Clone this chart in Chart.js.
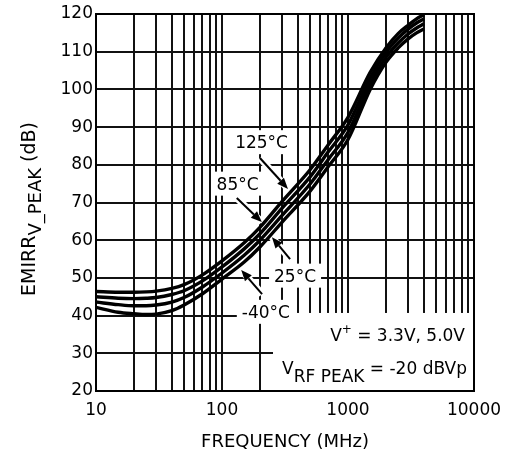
<!DOCTYPE html>
<html>
<head>
<meta charset="utf-8">
<script src="https://cdn.jsdelivr.net/npm/chart.js@4.4.1/dist/chart.umd.min.js"></script>
<style>
  html, body { margin: 0; padding: 0; background: #fff; }
  #wrap { width: 516px; height: 456px; }
</style>
</head>
<body>
<div id="wrap"><canvas id="emirrChart"></canvas></div>
<script>
// frequency points (MHz) and EMIRR values (dB)
const freqMHz   = [10, 15, 20, 25, 30, 40, 50, 70, 100, 150, 200, 300, 500, 700, 1000, 1500, 2000, 2500, 3000, 3500, 4000];
const emirr125C = [46.4, 46.2, 46.2, 46.3, 46.5, 47.2, 48.2, 50.8, 54.5, 59.3, 63.4, 70.3, 78.7, 85.4, 92.6, 104.5, 111.0, 114.8, 117.0, 118.7, 119.8];
const emirr85C  = [45.0, 44.6, 44.5, 44.6, 44.8, 45.6, 46.6, 49.2, 52.9, 57.7, 61.7, 68.5, 76.8, 83.5, 90.6, 103.0, 109.8, 113.6, 116.0, 117.6, 118.7];
const emirr25C  = [43.6, 42.9, 42.6, 42.6, 42.8, 43.6, 44.8, 47.6, 51.3, 56.0, 60.0, 66.6, 74.9, 81.5, 88.6, 101.5, 108.5, 112.3, 114.7, 116.3, 117.4];
const emirrM40C = [42.2, 40.9, 40.5, 40.3, 40.4, 41.3, 42.8, 45.8, 49.7, 54.2, 58.2, 64.8, 73.0, 79.6, 86.7, 100.0, 107.2, 111.0, 113.4, 115.0, 116.0];

const xTickLabels = [10, 100, 1000, 10000];
const yTicks = [20, 30, 40, 50, 60, 70, 80, 90, 100, 110, 120];

// log grid: 1..9 per decade
const xGridValues = [];
for (let d = 10; d < 10000; d *= 10) {
    for (let k = 1; k <= 9; k++) xGridValues.push(k * d);
}
xGridValues.push(10000);

const FONT = '"DejaVu Sans", sans-serif';

// temperature callouts (data coordinates)
const callouts = [
    { text: '125°C', f: 206, v: 86.0, fromF: 200, fromV: 81.8, toF: 334, toV: 73.6 },
    { text: '85°C',  f: 133, v: 75.0, fromF: 131, fromV: 71.2, toF: 207, toV: 64.8 },
    { text: '25°C',  f: 380, v: 50.6, fromF: 347, fromV: 55.0, toF: 249, toV: 60.8 },
    { text: '-40°C', f: 223, v: 41.0, fromF: 208, fromV: 45.7, toF: 142, toV: 52.1 }
];

function richText(ctx, parts, x, y, align) {
    let total = 0;
    parts.forEach(p => {
        ctx.font = p.size + 'px ' + FONT;
        p.w = ctx.measureText(p.t).width;
        total += p.w;
    });
    let cx = align === 'right' ? x - total : align === 'center' ? x - total / 2 : x;
    parts.forEach(p => {
        ctx.font = p.size + 'px ' + FONT;
        ctx.fillText(p.t, cx, y + (p.dy || 0));
        cx += p.w;
    });
}

function arrow(ctx, x1, y1, x2, y2) {
    const ang = Math.atan2(y2 - y1, x2 - x1), len = 11, half = 4.5;
    const bx = x2 - len * Math.cos(ang), by = y2 - len * Math.sin(ang);
    ctx.beginPath();
    ctx.moveTo(x1, y1);
    ctx.lineTo(bx, by);
    ctx.stroke();
    ctx.beginPath();
    ctx.moveTo(x2, y2);
    ctx.lineTo(bx + half * Math.sin(ang), by - half * Math.cos(ang));
    ctx.lineTo(bx - half * Math.sin(ang), by + half * Math.cos(ang));
    ctx.closePath();
    ctx.fill();
}

const overlay = {
    id: 'overlay',
    beforeDatasetsDraw(chart) {
        const { ctx, chartArea: a, scales: { x, y } } = chart;
        ctx.save();
        ctx.fillStyle = '#fff';
        // condition box, bottom right
        const bx = x.getPixelForValue(254), by = y.getPixelForValue(40.7);
        ctx.fillRect(bx, by, a.right - bx, a.bottom - by);
        // callout backgrounds
        ctx.font = '17px ' + FONT;
        callouts.forEach(c => {
            const w = ctx.measureText(c.text).width;
            const cx = x.getPixelForValue(c.f), cy = y.getPixelForValue(c.v);
            ctx.fillRect(cx - w / 2 - 5, cy - 12, w + 10, 24);
        });
        ctx.strokeStyle = '#fff';
        ctx.lineWidth = 7;
        callouts.forEach(c => {
            ctx.beginPath();
            ctx.moveTo(x.getPixelForValue(c.fromF), y.getPixelForValue(c.fromV));
            ctx.lineTo(x.getPixelForValue(c.toF), y.getPixelForValue(c.toV));
            ctx.stroke();
        });
        // frame
        ctx.strokeStyle = '#000';
        ctx.lineWidth = 2;
        ctx.strokeRect(a.left, a.top, a.right - a.left, a.bottom - a.top);
        ctx.restore();
    },
    afterDatasetsDraw(chart) {
        const { ctx, chartArea: a, scales: { x, y } } = chart;
        ctx.save();
        ctx.fillStyle = '#000';
        ctx.strokeStyle = '#000';
        ctx.lineWidth = 2;
        ctx.textAlign = 'left';
        ctx.textBaseline = 'alphabetic';
        callouts.forEach(c => {
            ctx.font = '17px ' + FONT;
            const w = ctx.measureText(c.text).width;
            ctx.fillText(c.text, x.getPixelForValue(c.f) - w / 2, y.getPixelForValue(c.v) + 6);
            arrow(ctx, x.getPixelForValue(c.fromF), y.getPixelForValue(c.fromV),
                  x.getPixelForValue(c.toF), y.getPixelForValue(c.toV));
        });

        // test conditions
        richText(ctx, [
            { t: 'V', size: 17 },
            { t: '+', size: 12, dy: -8 },
            { t: ' = 3.3V, 5.0V', size: 17 }
        ], a.right - 9, 341, 'right');
        richText(ctx, [
            { t: 'V', size: 17 },
            { t: 'RF PEAK', size: 17, dy: 8 },
            { t: ' = -20 dBVp', size: 17 }
        ], a.right - 7, 374, 'right');

        // axis titles
        richText(ctx, [{ t: 'FREQUENCY (MHz)', size: 18 }], (a.left + a.right) / 2, 447, 'center');
        ctx.translate(28, 209);
        ctx.rotate(-Math.PI / 2);
        richText(ctx, [
            { t: 'EMIRR', size: 19 },
            { t: 'V_PEAK', size: 18, dy: 6 },
            { t: ' (dB)', size: 19 }
        ], 0, 7, 'center');
        ctx.restore();
    }
};

function series(label, values) {
    return {
        label: label,
        data: freqMHz.map((f, i) => ({ x: f, y: values[i] })),
        borderColor: '#000',
        borderWidth: 3.4,
        pointRadius: 0,
        fill: false,
        cubicInterpolationMode: 'monotone'
    };
}

const ctx = document.getElementById('emirrChart').getContext('2d');
new Chart(ctx, {
    type: 'line',
    data: {
        datasets: [
            series('125°C', emirr125C),
            series('85°C', emirr85C),
            series('25°C', emirr25C),
            series('-40°C', emirrM40C)
        ]
    },
    options: {
        responsive: true,
        maintainAspectRatio: false,
        animation: false,
        layout: { padding: { top: 14, right: 42, left: 0, bottom: 0 } },
        plugins: {
            legend: { display: false },
            tooltip: { enabled: false }
        },
        scales: {
            x: {
                type: 'logarithmic',
                min: 10,
                max: 10000,
                afterBuildTicks(s) {
                    s.ticks = xGridValues.map(v => ({ value: v }));
                },
                afterFit(s) { s.height = 65; },
                ticks: {
                    autoSkip: false,
                    maxRotation: 0,
                    padding: 9,
                    color: '#000',
                    font: { family: FONT, size: 17 },
                    callback: v => xTickLabels.includes(v) ? String(v) : ''
                },
                grid: { color: '#111', lineWidth: 2, drawTicks: false },
                border: { color: '#000', width: 2 }
            },
            y: {
                min: 20,
                max: 120,
                afterBuildTicks(s) {
                    s.ticks = yTicks.map(v => ({ value: v }));
                },
                afterFit(s) { s.width = 96; },
                ticks: {
                    padding: 3,
                    color: '#000',
                    font: { family: FONT, size: 17 }
                },
                grid: { color: '#111', lineWidth: 2, drawTicks: false },
                border: { color: '#000', width: 2 }
            }
        }
    },
    plugins: [overlay]
});
</script>
</body>
</html>
